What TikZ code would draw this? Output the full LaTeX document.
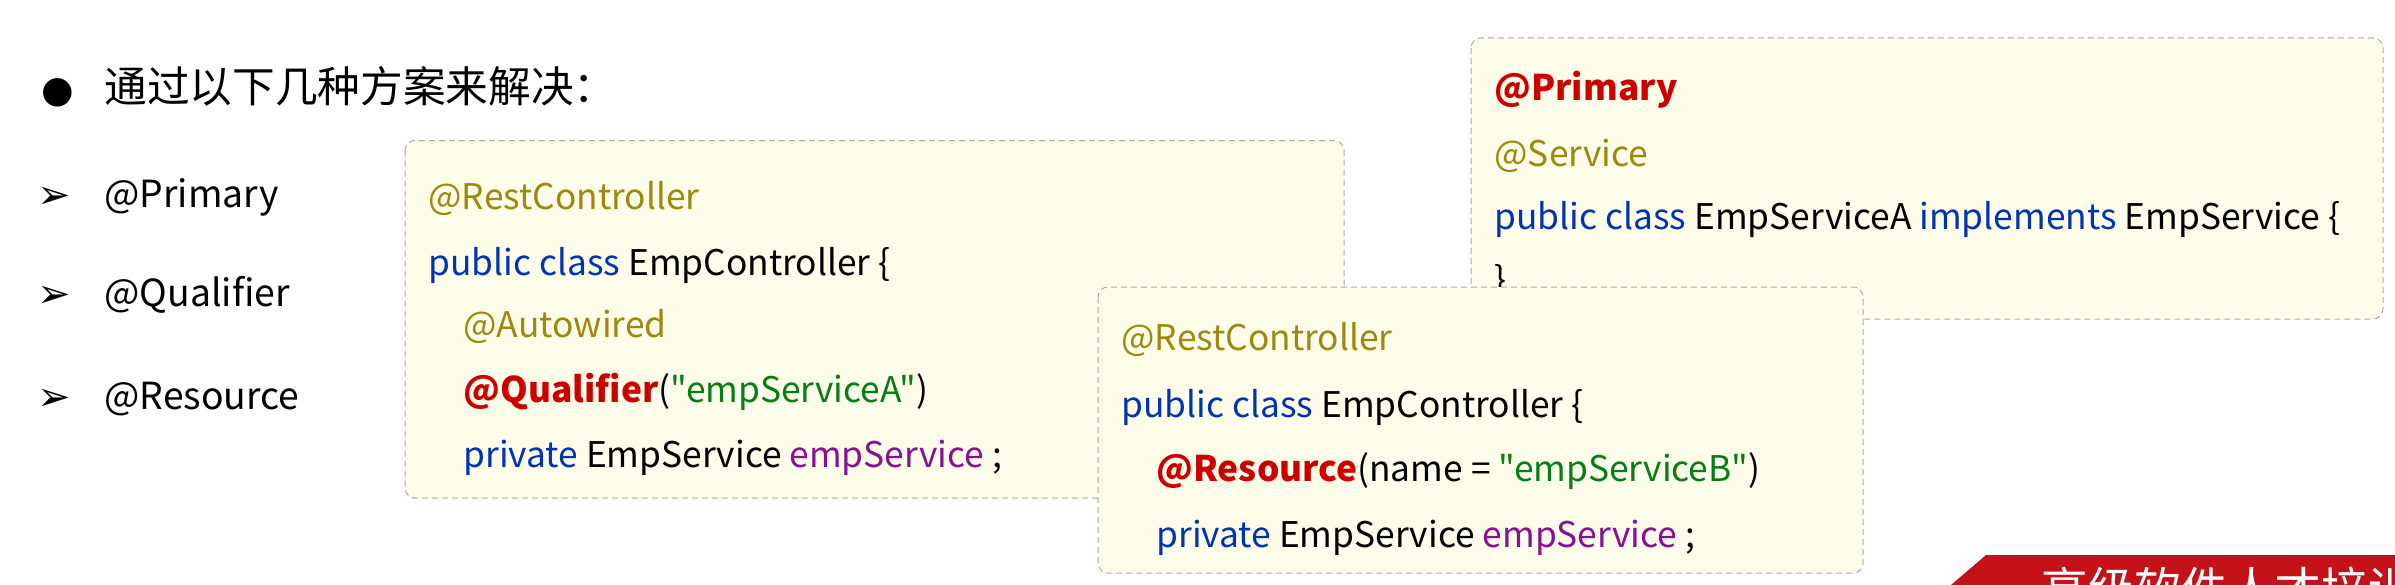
\documentclass[tikz,border=0pt]{standalone}
\usepackage{fontspec}
\setmainfont{Noto Sans CJK SC}[Ligatures=TeXOff]
\newfontfamily\dejavu{DejaVu Sans}

\definecolor{annot}{RGB}{158,136,13}
\definecolor{kw}{RGB}{0,51,179}
\definecolor{fld}{RGB}{135,16,148}
\definecolor{str}{RGB}{6,125,23}
\definecolor{hl}{RGB}{204,0,0}
\definecolor{boxfill}{RGB}{253,253,234}
\definecolor{boxline}{RGB}{170,170,170}
\definecolor{banner}{RGB}{196,18,24}

\tikzset{every picture/.style={line width=0.75pt}}
\tikzset{
  codebox/.style={draw=boxline, dash pattern={on 4.5pt off 3pt}, fill=boxfill, rounded corners=7.5pt},
  codeline/.style={anchor=base west, inner sep=0pt, font=\fontsize{26.5}{30}\selectfont},
  listline/.style={anchor=base west, inner sep=0pt, font=\fontsize{28}{32}\selectfont},
  listmark/.style={anchor=base, inner sep=0pt, font=\dejavu\bfseries\fontsize{30}{34}\selectfont},
}

\begin{document}
\begin{tikzpicture}[x=0.75pt,y=0.75pt,yscale=-1,xscale=1]
	\useasboundingbox (0,0) rectangle (2395,585);
	\fill [white] (0,0) rectangle (2395,585);
	
	% Text Node
	\draw (58,103) node [anchor=base, inner sep=0pt, font=\dejavu\fontsize{28}{30}\selectfont] (dot) {●};
	% Text Node
	\draw (104,103) node [anchor=base west, inner sep=0pt, font=\fontsize{32}{36}\selectfont] (title) {通过以下几种方案来解决：};
	% Text Node
	\draw (54,208) node [listmark] (arr1) {➢};
	\draw (104,207) node [listline] (li1) {@Primary};
	% Text Node
	\draw (54,307) node [listmark] (arr2) {➢};
	\draw (104,306) node [listline] (li2) {@Qualifier};
	% Text Node
	\draw (54,410) node [listmark] (arr3) {➢};
	\draw (104,409) node [listline] (li3) {@Resource};
	
	%Shape: Rectangle [id:qualifierbox] 
	\draw [codebox] (405,140.5) rectangle (1344,498);
	% Text Node
	\draw (428,209) node [codeline] (qa1) {\textcolor{annot}{@RestController}};
	\draw (428,275) node [codeline] (qa2) {\textcolor{kw}{public class} EmpController \{};
	\draw (463,337) node [codeline] (qa3) {\textcolor{annot}{@Autowired}};
	\draw (463,402) node [codeline] (qa4) {\textcolor{hl}{\bfseries @Qualifier}(\textcolor{str}{"empServiceA"})};
	\draw (463,467) node [codeline] (qa5) {\textcolor{kw}{private} EmpService \textcolor{fld}{empService} ;};
	
	%Shape: Rectangle [id:primarybox] 
	\draw [codebox] (1471,38) rectangle (2383,319);
	% Text Node
	\draw (1494,101) node [codeline] (pr1) {\textcolor{hl}{\bfseries @Primary}};
	\draw (1494,166) node [codeline] (pr2) {\textcolor{annot}{@Service}};
	\draw (1494,229) node [codeline] (pr3) {\textcolor{kw}{public class} EmpServiceA \textcolor{kw}{implements} EmpService \{};
	\draw (1494,292) node [codeline] (pr4) {\}};
	
	%Shape: Rectangle [id:resourcebox] 
	\draw [codebox] (1098,287) rectangle (1863,573);
	% Text Node
	\draw (1121,350) node [codeline] (rs1) {\textcolor{annot}{@RestController}};
	\draw (1121,417) node [codeline] (rs2) {\textcolor{kw}{public class} EmpController \{};
	\draw (1156,481) node [codeline] (rs3) {\textcolor{hl}{\bfseries @Resource}(name = \textcolor{str}{"empServiceB"})};
	\draw (1156,547) node [codeline] (rs4) {\textcolor{kw}{private} EmpService \textcolor{fld}{empService} ;};
	
	%Shape: Banner [id:banner] 
	\begin{scope}
		\clip (0,0) rectangle (2395,585);
		\fill [banner] (1986,555) -- (2395,555) -- (2395,585) -- (1951,585) -- cycle;
		% Text Node
		\draw (2041,606) node [anchor=base west, inner sep=0pt, text=white, font=\fontsize{35}{40}\selectfont] (ban) {高级软件人才培训};
	\end{scope}
	
\end{tikzpicture}
\end{document}
